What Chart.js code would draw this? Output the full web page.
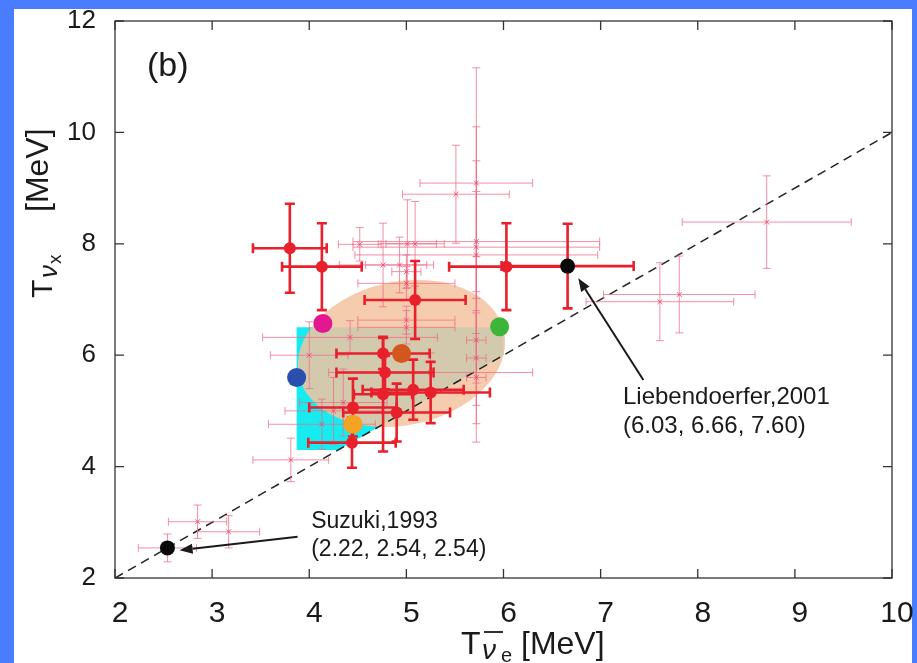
<!DOCTYPE html>
<html>
<head>
<meta charset="utf-8">
<script src="https://cdn.jsdelivr.net/npm/chart.js@4.4.0/dist/chart.umd.min.js"></script>
<style>
  html, body { margin: 0; padding: 0; background: #4a7cff; }
  #wrap { position: absolute; left: 0; top: 0; width: 917px; height: 663px; }
</style>
</head>
<body>
<div id="wrap"><canvas id="c" width="917" height="663"></canvas></div>
<script>
// ---------- axis ticks (MeV) ----------
const xTicks = [2, 3, 4, 5, 6, 7, 8, 9, 10];
const yTicks = [2, 4, 6, 8, 10, 12];

// ---------- published estimates with wide uncertainties (thin pink crosses) ----------
const pinkX    = [2.85, 3.17, 3.81, 8.71, 7.61, 7.81, 5.72, 5.51, 5.72, 5.72, 5.72, 5.72, 5.72, 5.72, 4.52, 5.01, 5.09, 4.76, 4.93, 5.00, 5.00, 5.00, 5.00, 4.42, 4.00, 4.13, 4.25, 4.35, 5.25];
const pinkY    = [3.01, 2.83, 4.12, 8.39, 6.96, 7.09, 9.09, 8.89, 8.04, 7.94, 7.80, 6.27, 5.60, 5.95, 7.99, 8.00, 8.00, 7.62, 7.62, 7.50, 7.29, 6.63, 6.50, 6.32, 6.00, 4.76, 5.00, 5.15, 5.69];
const pinkXErr = [0.30, 0.32, 0.39, 0.87, 0.76, 0.78, 0.58, 0.55, 1.27, 1.27, 1.25, 0.10, 0.10, 0.10, 0.22, 0.30, 0.30, 0.45, 0.35, 0.15, 0.50, 0.50, 0.50, 0.90, 0.40, 0.55, 0.50, 0.45, 1.05];
const pinkYErr = [0.30, 0.29, 0.39, 0.83, 0.70, 0.69, 2.07, 0.88, 0.90, 1.55, 2.30, 1.50, 1.16, 0.85, 0.30, 0.79, 0.76, 0.75, 0.50, 0.30, 0.30, 0.25, 0.30, 0.30, 0.60, 0.45, 0.60, 0.60, 0.35];

// ---------- selected estimates (red, thick bars) ----------
const redX    = [3.80, 4.13, 6.03, 5.09, 4.76, 4.78, 4.76, 5.07, 5.25, 4.45, 4.90, 4.44];
const redY    = [7.92, 7.59, 7.59, 6.99, 6.03, 5.69, 5.30, 5.38, 5.33, 5.06, 4.97, 4.43];
const redXErr = [0.38, 0.41, 0.59, 0.52, 0.48, 0.50, 0.30, 0.52, 0.61, 0.45, 0.55, 0.45];
const redYErr = [0.80, 0.78, 0.78, 0.70, 0.28, 0.30, 1.03, 0.54, 0.55, 0.52, 0.52, 0.45];

// ---------- fitted values (large coloured dots) ----------
const fitX      = [4.14, 3.87, 5.96, 4.95, 4.45];
const fitY      = [6.57, 5.60, 6.51, 6.03, 4.76];
const fitColors = ['#e3178f', '#2b4fae', '#3db538', '#d4561f', '#f5a323'];

// ---------- simulations quoted by name (black dots) ----------
const suzukiX = [2.54], suzukiY = [2.54], suzukiXErr = [0.30], suzukiYErr = [0.25];
const liebX   = [6.66], liebY   = [7.60], liebXErr   = [0.68], liebYErr   = [0.76];

// ---------- allowed regions ----------
const regionX = [3.87, 4.30, 6.00, 6.00, 3.87, 3.87];
const regionY = [4.30, 4.30, 6.00, 6.50, 6.50, 4.30];
const ellipseCenter = [4.95, 6.03];
const ellipseRadius = [1.08, 1.29];   // in x-units, y-units
const ellipseTiltDeg = -12;

// ---------- equal-temperature line ----------
const diagX = [2, 10];
const diagY = [2, 10];

const FONT = '"Liberation Sans", Arial, Helvetica, sans-serif';
const zip = (xs, ys) => xs.map((x, i) => ({ x, y: ys[i] }));

// page frame: blue border round a white panel
const panelPlugin = {
  id: 'panel',
  beforeDraw(chart) {
    const ctx = chart.ctx;
    ctx.save();
    ctx.fillStyle = '#4a7cff';
    ctx.fillRect(0, 0, chart.width, chart.height);
    ctx.fillStyle = '#ffffff';
    ctx.fillRect(14, 9, 898, 654);
    ctx.restore();
  }
};

// shaded ellipse, drawn just above the cyan region
const ellipsePlugin = {
  id: 'ellipse',
  afterDatasetDraw(chart, args) {
    if (chart.data.datasets[args.index].id !== 'region') return;
    const { x: xs, y: ys } = chart.scales;
    const ctx = chart.ctx;
    const cx = xs.getPixelForValue(ellipseCenter[0]);
    const cy = ys.getPixelForValue(ellipseCenter[1]);
    const rx = Math.abs(xs.getPixelForValue(ellipseCenter[0] + ellipseRadius[0]) - cx);
    const ry = Math.abs(ys.getPixelForValue(ellipseCenter[1] + ellipseRadius[1]) - cy);
    ctx.save();
    ctx.beginPath();
    ctx.ellipse(cx, cy, rx, ry, ellipseTiltDeg * Math.PI / 180, 0, Math.PI * 2);
    ctx.fillStyle = 'rgba(245,195,160,0.85)';
    ctx.fill();
    ctx.restore();
  }
};

// error bars, drawn under each dataset's markers
const errorBarPlugin = {
  id: 'errorBars',
  beforeDatasetDraw(chart, args) {
    const ds = chart.data.datasets[args.index];
    if (!ds.xErr) return;
    const { x: xs, y: ys } = chart.scales;
    const ctx = chart.ctx;
    ctx.save();
    ctx.strokeStyle = ds.barColor;
    ctx.lineWidth = ds.barWidth;
    const cap = ds.capSize;
    ds.data.forEach((p, i) => {
      const px = xs.getPixelForValue(p.x), py = ys.getPixelForValue(p.y);
      const x0 = xs.getPixelForValue(p.x - ds.xErr[i]), x1 = xs.getPixelForValue(p.x + ds.xErr[i]);
      const y0 = ys.getPixelForValue(p.y - ds.yErr[i]), y1 = ys.getPixelForValue(p.y + ds.yErr[i]);
      ctx.beginPath();
      ctx.moveTo(x0, py); ctx.lineTo(x1, py);
      ctx.moveTo(x0, py - cap); ctx.lineTo(x0, py + cap);
      ctx.moveTo(x1, py - cap); ctx.lineTo(x1, py + cap);
      ctx.moveTo(px, y0); ctx.lineTo(px, y1);
      ctx.moveTo(px - cap, y0); ctx.lineTo(px + cap, y0);
      ctx.moveTo(px - cap, y1); ctx.lineTo(px + cap, y1);
      ctx.stroke();
    });
    ctx.restore();
  }
};

// box frame with inward ticks on all four sides
const framePlugin = {
  id: 'frame',
  afterDraw(chart) {
    const { ctx, chartArea: a } = chart;
    const { x: xs, y: ys } = chart.scales;
    const len = 9;
    ctx.save();
    ctx.strokeStyle = '#333';
    ctx.lineWidth = 1.3;
    ctx.strokeRect(a.left, a.top, a.right - a.left, a.bottom - a.top);
    ctx.beginPath();
    xs.ticks.forEach(t => {
      const px = xs.getPixelForValue(t.value);
      ctx.moveTo(px, a.bottom); ctx.lineTo(px, a.bottom - len);
      ctx.moveTo(px, a.top); ctx.lineTo(px, a.top + len);
    });
    ys.ticks.forEach(t => {
      const py = ys.getPixelForValue(t.value);
      ctx.moveTo(a.left, py); ctx.lineTo(a.left + len, py);
      ctx.moveTo(a.right, py); ctx.lineTo(a.right - len, py);
    });
    ctx.stroke();
    ctx.restore();
  }
};

function arrow(ctx, x0, y0, x1, y1) {
  const ang = Math.atan2(y1 - y0, x1 - x0);
  const hl = 13, hw = 5;
  const bx = x1 - hl * Math.cos(ang), by = y1 - hl * Math.sin(ang);
  ctx.beginPath();
  ctx.moveTo(x0, y0); ctx.lineTo(bx, by);
  ctx.stroke();
  ctx.beginPath();
  ctx.moveTo(x1, y1);
  ctx.lineTo(bx + hw * Math.sin(ang), by - hw * Math.cos(ang));
  ctx.lineTo(bx - hw * Math.sin(ang), by + hw * Math.cos(ang));
  ctx.closePath();
  ctx.fill();
}

// captions, arrows and axis titles
const notesPlugin = {
  id: 'notes',
  afterDraw(chart) {
    const { ctx, chartArea: a } = chart;
    const { x: xs, y: ys } = chart.scales;
    const X = v => xs.getPixelForValue(v), Y = v => ys.getPixelForValue(v);
    ctx.save();
    ctx.fillStyle = '#1a1a1a';
    ctx.strokeStyle = '#1a1a1a';
    ctx.lineWidth = 2;

    // panel letter
    ctx.font = '34px ' + FONT;
    ctx.textBaseline = 'middle';
    ctx.textAlign = 'left';
    ctx.fillText('(b)', a.left + 32, a.top + 46);

    // named simulations
    ctx.font = '23px ' + FONT;
    ctx.fillText('Suzuki,1993', X(4.02), Y(3.01));
    ctx.fillText('(2.22, 2.54, 2.54)', X(4.02), Y(2.50));
    ctx.font = '24px ' + FONT;
    ctx.fillText('Liebendoerfer,2001', X(7.23), Y(5.25));
    ctx.fillText('(6.03, 6.66, 7.60)', X(7.23), Y(4.72));
    arrow(ctx, X(3.88), Y(2.74), X(2.665), Y(2.50));
    arrow(ctx, X(7.44), Y(5.555), X(6.77), Y(7.38));

    // x-axis title: T with anti-nu_e subscript, then unit
    ctx.textBaseline = 'alphabetic';
    const bx = 654;
    ctx.font = '32px ' + FONT;
    ctx.fillText('T', 461, bx);
    ctx.font = 'italic 28px ' + FONT;
    ctx.fillText('\u03BD', 482, bx + 5);
    ctx.lineWidth = 1.8;
    ctx.beginPath(); ctx.moveTo(484, 632); ctx.lineTo(503, 632); ctx.stroke();
    ctx.font = '20px ' + FONT;
    ctx.fillText('e', 501, bx + 8);
    ctx.font = '32px ' + FONT;
    ctx.fillText('[MeV]', 521, bx);

    // y-axis title, rotated
    ctx.translate(52, 298);
    ctx.rotate(-Math.PI / 2);
    ctx.font = '30px ' + FONT;
    ctx.fillText('T', 0, 0);
    ctx.font = 'italic 26px ' + FONT;
    ctx.fillText('\u03BD', 20, 5);
    ctx.font = '19px ' + FONT;
    ctx.fillText('x', 34, 9);
    ctx.font = '32px ' + FONT;
    ctx.fillText('[MeV]', 86, -4);
    ctx.restore();
  }
};

// fixed axis sizes; tick labels may overhang into the page margins
function fixX(s) {
  s.height = 85;
  s.paddingLeft = s.paddingRight = s.paddingTop = s.paddingBottom = 0;
}
function fixY(s) {
  s.width = 101;
  s.paddingLeft = s.paddingRight = s.paddingTop = s.paddingBottom = 0;
}

const chart = new Chart(document.getElementById('c'), {
  type: 'scatter',
  data: {
    datasets: [
      {
        id: 'region', type: 'line', data: zip(regionX, regionY), order: 10,
        showLine: true, fill: 'shape', backgroundColor: 'rgb(22,236,240)',
        borderWidth: 0, pointRadius: 0, tension: 0
      },
      {
        id: 'diagonal', type: 'line', data: zip(diagX, diagY), order: 9,
        showLine: true, fill: false, borderColor: '#222', borderWidth: 1.5,
        borderDash: [9, 6], pointRadius: 0
      },
      {
        id: 'pink', data: zip(pinkX, pinkY), order: 8,
        xErr: pinkXErr, yErr: pinkYErr, barColor: 'rgba(240,105,135,0.75)', barWidth: 1, capSize: 4,
        pointStyle: 'crossRot', pointRadius: 3.5, borderColor: 'rgba(230,70,105,0.8)', borderWidth: 1,
        backgroundColor: 'transparent'
      },
      {
        id: 'suzuki', data: zip(suzukiX, suzukiY), order: 7,
        xErr: suzukiXErr, yErr: suzukiYErr, barColor: 'rgba(240,105,135,0.75)', barWidth: 1, capSize: 4,
        pointStyle: 'circle', pointRadius: 7.5, backgroundColor: '#0a0a0a', borderColor: '#0a0a0a', borderWidth: 0
      },
      {
        id: 'red', data: zip(redX, redY), order: 6,
        xErr: redXErr, yErr: redYErr, barColor: '#e8202c', barWidth: 2.6, capSize: 5,
        pointStyle: 'circle', pointRadius: 6, backgroundColor: '#e8202c', borderColor: '#e8202c', borderWidth: 0
      },
      {
        id: 'lieb', data: zip(liebX, liebY), order: 5,
        xErr: liebXErr, yErr: liebYErr, barColor: '#e8202c', barWidth: 2.6, capSize: 5,
        pointStyle: 'circle', pointRadius: 7.5, backgroundColor: '#0a0a0a', borderColor: '#0a0a0a', borderWidth: 0
      },
      {
        id: 'fits', data: zip(fitX, fitY), order: 4,
        pointStyle: 'circle', pointRadius: 9.5, backgroundColor: fitColors, borderColor: fitColors, borderWidth: 0
      }
    ]
  },
  options: {
    responsive: false,
    animation: false,
    devicePixelRatio: 1,
    layout: { padding: { left: 14, top: 21, right: 25, bottom: 0 } },
    plugins: { legend: { display: false }, tooltip: { enabled: false } },
    scales: {
      x: {
        type: 'linear', min: 2, max: 10,
        afterBuildTicks: s => { s.ticks = xTicks.map(v => ({ value: v })); },
        afterFit: fixX,
        ticks: { font: { family: FONT, size: 30 }, color: '#1a1a1a', padding: 18, labelOffset: 5, maxRotation: 0 },
        grid: { display: false, drawTicks: false },
        border: { display: false }
      },
      y: {
        type: 'linear', min: 2, max: 12,
        afterBuildTicks: s => { s.ticks = yTicks.map(v => ({ value: v })); },
        afterFit: fixY,
        ticks: { font: { family: FONT, size: 26 }, color: '#1a1a1a', padding: 19 },
        grid: { display: false, drawTicks: false },
        border: { display: false }
      }
    }
  },
  plugins: [panelPlugin, ellipsePlugin, errorBarPlugin, framePlugin, notesPlugin]
});
</script>
</body>
</html>
